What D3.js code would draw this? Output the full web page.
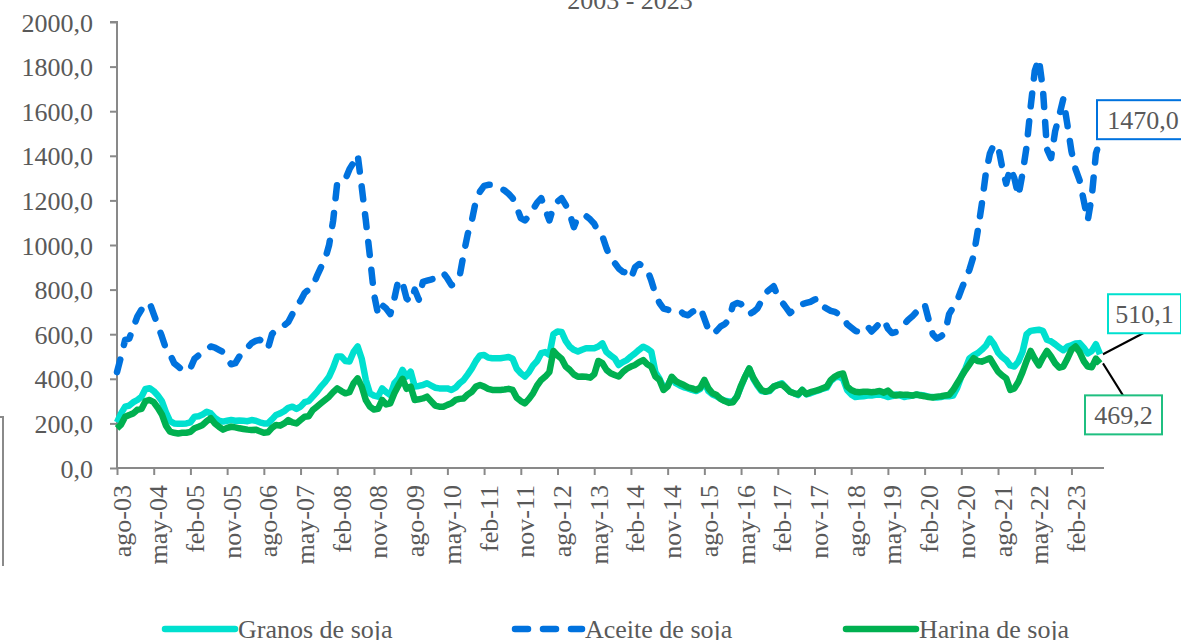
<html>
  <head>
    <meta charset="utf-8">
    <style>
    body {
      margin: 0px;
      background: #fff;
    }
    text {
      font-family: "Liberation Serif", "Times New Roman", serif;
      fill: #595959;
    }
    </style>
  </head>
  <body>
    <div id="elm"></div>

    <script src="https://cdn.jsdelivr.net/npm/d3@7"></script>
    <script>
    'use strict';

    // monthly series, ago-03 .. sep-23
    var months = ['ene', 'feb', 'mar', 'abr', 'may', 'jun', 'jul', 'ago', 'sep', 'oct', 'nov', 'dic'];
    var startYear = 2003, startMonth = 7;

    var granos = [
      205, 245, 275, 280, 295,
      305, 320, 355, 358, 345, 325, 300, 250, 210, 200, 198, 198,
      200, 205, 230, 232, 240, 252, 245, 225, 212, 208, 212, 215,
      212, 213, 212, 210, 215, 212, 205, 200, 200, 218, 238, 245,
      255, 270, 275, 265, 275, 295, 300, 320, 340, 365, 385, 410,
      450, 500, 500, 480, 478, 520, 545, 490, 395, 335, 325, 320,
      357, 340, 327, 380, 400, 440, 410, 432, 365, 368, 372, 380,
      370, 360, 357, 357, 357, 350, 360, 380, 395, 420, 447, 480,
      505, 507, 495, 492, 492, 492, 495, 498, 490, 445, 425, 410,
      430, 460, 480, 515, 520, 507, 600, 612, 610, 570, 544, 530,
      522, 530, 537, 537, 537, 545, 559, 520, 505, 492, 462, 475,
      484, 500, 514, 530, 544, 535, 522, 430, 400, 360, 370, 405,
      380, 370, 362, 357, 350, 345, 355, 385, 345, 330, 322, 310,
      302, 298, 298, 320, 365, 410, 445, 400, 370, 345, 342, 345,
      365, 372, 380, 360, 342, 335, 327, 350, 330, 335, 342, 348,
      355, 360, 390, 405, 410, 400, 350, 330, 318, 320, 322, 325,
      325, 328, 330, 325, 318, 322, 330, 325, 318, 322, 325, 328,
      327, 325, 320, 318, 316, 318, 322, 322, 325, 360, 410, 445,
      492, 505, 515, 530, 548, 580, 555, 518, 498, 484, 460, 455,
      478, 520, 600, 615, 618, 620, 615, 575, 568, 555, 540, 528,
      544, 550, 558, 560, 540, 514, 525, 555, 510.1
    ];

    var aceite = [
      430, 500, 575, 580, 630,
      680, 710, 735, 740, 690, 640, 590, 535, 510, 470, 455, 440,
      432, 447, 490, 505, 515, 530, 545, 540, 530, 520, 490, 465,
      470, 500, 510, 540, 560, 570, 575, 560, 535, 600, 620, 630,
      640, 655, 690, 725, 750, 785, 800, 815, 860, 900, 935, 1000,
      1110, 1280, 1290, 1295, 1340, 1370, 1405, 1260, 1110, 950, 780, 690,
      730, 715, 690, 760, 845, 830, 760, 745, 800, 755, 835, 840,
      845, 850, 865, 875, 850, 820, 830, 860, 960, 1050, 1110, 1200,
      1240, 1265, 1270, 1270, 1265, 1255, 1245, 1230, 1210, 1170, 1120, 1110,
      1130, 1160, 1190, 1210, 1160, 1110, 1170, 1195, 1210, 1180, 1140, 1080,
      1125, 1130, 1130, 1115, 1095, 1060, 1040, 985, 940, 920, 895, 880,
      875, 850, 900, 915, 905, 890, 840, 780, 740, 715, 710, 705,
      710, 705, 690, 685, 700, 710, 720, 670, 620, 600, 615, 635,
      645, 665, 730, 740, 735, 715, 690, 700, 715, 750, 785, 800,
      815, 770, 745, 720, 695, 710, 730, 735, 740, 745, 755, 760,
      725, 715, 705, 700, 690, 680, 645, 630, 615, 610, 630, 635,
      612, 630, 650, 665, 625, 605, 610, 625, 645, 665, 680, 700,
      725, 735, 665, 600, 580, 590, 605, 690, 720, 750, 800, 845,
      890, 950, 1060, 1180, 1320, 1410, 1450, 1445, 1350, 1275, 1345, 1300,
      1220, 1320, 1440, 1620, 1780, 1835, 1700, 1430, 1390, 1510, 1580, 1655,
      1540, 1420, 1340, 1290, 1200, 1110, 1220, 1410, 1470.0
    ];

    var harina = [
      178, 195, 230, 238, 245,
      261, 265, 300, 305, 295, 270, 240, 190, 163, 158, 155, 158,
      158, 162, 178, 185, 193, 210, 223, 200, 185, 172, 180, 185,
      182, 178, 175, 172, 170, 172, 165, 158, 160, 180, 193, 190,
      200, 215, 205, 200, 215, 230, 232, 260, 275, 290, 305, 320,
      340, 357, 345, 335, 340, 380, 402, 365, 305, 275, 262, 265,
      305, 285, 290, 335, 370, 400, 355, 365, 305, 308, 312, 320,
      300, 280, 275, 275, 283, 290, 305, 310, 312, 330, 342, 365,
      372, 365, 355, 350, 350, 350, 352, 355, 350, 315, 300, 290,
      310, 335, 370, 395, 410, 430, 525, 505, 490, 455, 440, 420,
      409, 410, 409, 405, 420, 480, 470, 440, 425, 417, 410, 430,
      445, 455, 462, 475, 484, 465, 454, 410, 395, 350, 365, 409,
      390, 380, 372, 362, 357, 350, 360, 395, 357, 335, 327, 310,
      300, 292, 295, 320, 370, 410, 447, 405, 375, 350, 342, 348,
      365, 372, 375, 360, 342, 335, 330, 350, 332, 340, 345, 350,
      358, 365, 395, 410, 420, 424, 365, 350, 342, 340, 342, 342,
      340, 342, 345, 338, 347, 330, 325, 330, 328, 328, 325, 330,
      325, 322, 318, 316, 320, 322, 325, 328, 350, 380, 410, 439,
      465, 492, 480, 477, 484, 492, 462, 432, 415, 402, 350, 357,
      387, 430, 480, 525, 490, 460, 495, 525, 500, 470, 450, 455,
      490, 530, 545, 520, 480, 455, 452, 490, 469.2
    ];

    var yTicks = [0, 200, 400, 600, 800, 1000, 1200, 1400, 1600, 1800, 2000];
    var xTickStep = 9;
    var seriesNames = ['Granos de soja', 'Aceite de soja', 'Harina de soja'];
    var title = '2003 - 2023';

    var W = 1181, H = 640;
    var colors = { granos: '#00e0cf', aceite: '#0072de', harina: '#00b050' };
    var dash = '13,15';

    function monthLabel(i) {
      var m = startMonth + i;
      var yy = startYear + Math.floor(m / 12);
      return months[m % 12] + '-' + String(yy % 100).padStart(2, '0');
    }
    function fmt(v) { return v.toFixed(1).replace('.', ','); }

    var svg = d3.select('#elm').append('svg')
      .attr('width', W).attr('height', H)
      .style('display', 'block');

    var x = d3.scaleLinear().domain([0, granos.length - 1]).range([117, 1100]);
    var y = d3.scaleLinear().domain([0, 2000]).range([468, 22]);

    // title (partly cut off on top, as in the source)
    svg.append('text')
      .attr('x', 630).attr('y', 9)
      .attr('text-anchor', 'middle')
      .style('font-size', '26px')
      .text(title);

    // stray border piece on the left
    svg.append('path')
      .attr('d', 'M0,417H3V566')
      .attr('fill', 'none')
      .attr('stroke', '#8a8a8a')
      .attr('stroke-width', 2);

    // y axis
    var yAxis = svg.append('g')
      .attr('transform', 'translate(117,0)')
      .call(d3.axisLeft(y).tickValues(yTicks).tickFormat(fmt).tickSize(7).tickPadding(17));
    yAxis.select('.domain').attr('stroke', '#898989').attr('stroke-width', 2)
      .attr('d', 'M-7,' + y(2000) + 'H0V' + y(0));
    yAxis.selectAll('.tick line').attr('stroke', '#898989').attr('stroke-width', 2);
    yAxis.selectAll('.tick text')
      .style('font-size', '26px')
      .style('font-family', '"Liberation Serif", "Times New Roman", serif')
      .attr('fill', '#595959')
      .attr('dy', '0.35em');

    // x axis
    var xTickIdx = d3.range(0, granos.length, xTickStep);
    var xAxis = svg.append('g')
      .attr('transform', 'translate(0,468)')
      .call(d3.axisBottom(x).tickValues(xTickIdx).tickFormat(monthLabel).tickSize(7));
    xAxis.select('.domain').attr('stroke', '#898989').attr('stroke-width', 2)
      .attr('d', 'M' + x(0) + ',0H1104');
    xAxis.selectAll('.tick line').attr('stroke', '#898989').attr('stroke-width', 2);
    xAxis.selectAll('.tick text')
      .style('font-size', '26px')
      .style('font-family', '"Liberation Serif", "Times New Roman", serif')
      .attr('fill', '#595959')
      .attr('transform', 'rotate(-90)')
      .attr('x', -17).attr('y', 0)
      .attr('dy', '0.5em')
      .attr('text-anchor', 'end');

    // lines
    var line = d3.line()
      .x(function(d, i) { return x(i); })
      .y(function(d) { return y(d); })
      .curve(d3.curveLinear);

    svg.append('path').datum(granos)
      .attr('d', line)
      .attr('fill', 'none')
      .attr('stroke', colors.granos)
      .attr('stroke-width', 6.5)
      .attr('stroke-linejoin', 'round');

    svg.append('path').datum(aceite)
      .attr('d', line)
      .attr('fill', 'none')
      .attr('stroke', colors.aceite)
      .attr('stroke-width', 6.5)
      .attr('stroke-dasharray', dash)
      .attr('stroke-linecap', 'round')
      .attr('stroke-linejoin', 'round');

    svg.append('path').datum(harina)
      .attr('d', line)
      .attr('fill', 'none')
      .attr('stroke', colors.harina)
      .attr('stroke-width', 6.5)
      .attr('stroke-linejoin', 'round');

    // end labels
    var last = granos.length - 1;
    function endLabel(value, color, bx, by, bw, lead) {
      var px = x(last), py = y(value);
      if (lead) {
        svg.append('line')
          .attr('x1', px + 3).attr('y1', py + lead[2])
          .attr('x2', px + lead[0]).attr('y2', py + lead[1])
          .attr('stroke', '#000').attr('stroke-width', 2);
      }
      svg.append('rect')
        .attr('x', px + bx).attr('y', py + by)
        .attr('width', bw).attr('height', 39)
        .attr('fill', '#fff')
        .attr('stroke', color).attr('stroke-width', 2);
      svg.append('text')
        .attr('x', px + bx + bw / 2).attr('y', py + by + 29)
        .attr('text-anchor', 'middle')
        .style('font-size', '26px')
        .text(fmt(value));
    }
    endLabel(aceite[last], colors.aceite, -3, -40, 92, null);
    endLabel(granos[last], colors.granos, 8, -60, 73, [45, -22, 0]);
    endLabel(harina[last], '#1fbf80', -15, 32, 77, [23, 32, 0]);

    // legend
    var legend = [
      { name: seriesNames[0], color: colors.granos, dash: null, x0: 165 },
      { name: seriesNames[1], color: colors.aceite, dash: dash, x0: 512 },
      { name: seriesNames[2], color: colors.harina, dash: null, x0: 846 }
    ];
    var lg = svg.append('g').selectAll('g').data(legend).enter().append('g');
    lg.append('line')
      .attr('x1', function(d) { return d.x0 + (d.dash ? 3 : 0); })
      .attr('x2', function(d) { return d.x0 + 70; })
      .attr('y1', 629).attr('y2', 629)
      .attr('stroke', function(d) { return d.color; })
      .attr('stroke-width', 6.5)
      .attr('stroke-linecap', 'round')
      .attr('stroke-dasharray', function(d) { return d.dash; });
    lg.append('text')
      .attr('x', function(d) { return d.x0 + 73; })
      .attr('y', 638)
      .style('font-size', '26px')
      .text(function(d) { return d.name; });
    </script>
  </body>
</html>
